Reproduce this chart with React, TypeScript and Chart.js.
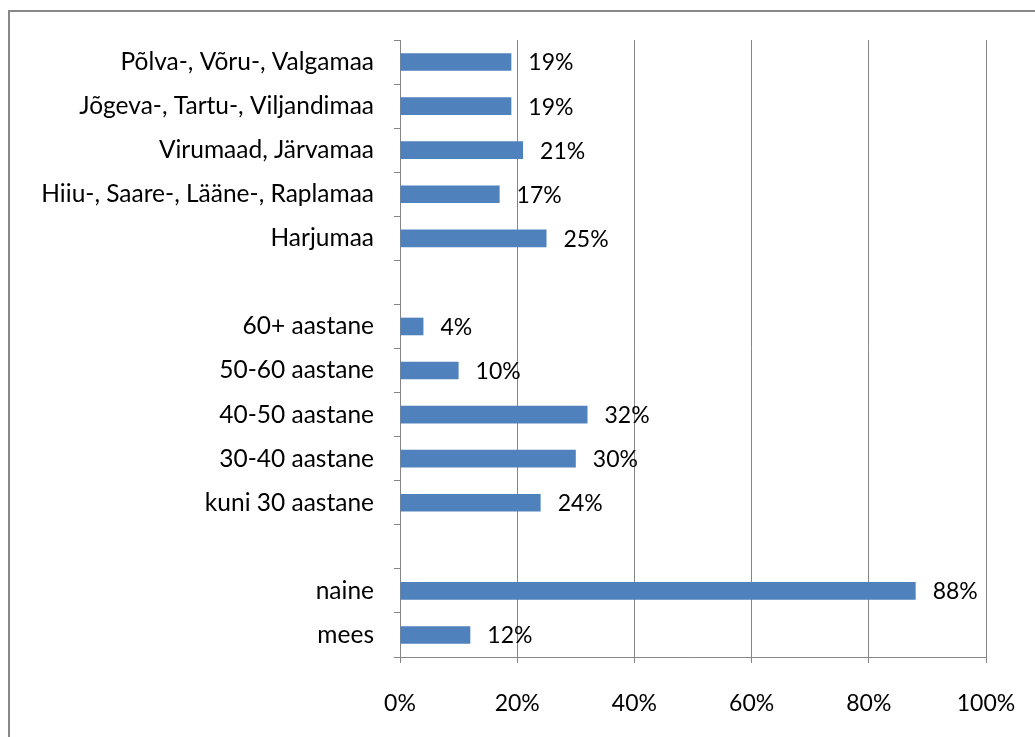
import React, { useEffect, useRef } from "react";
import { Chart, registerables } from "chart.js";

Chart.register(...registerables);

const categories: string[] = [
  "Põlva-, Võru-, Valgamaa",
  "Jõgeva-, Tartu-, Viljandimaa",
  "Virumaad, Järvamaa",
  "Hiiu-, Saare-, Lääne-, Raplamaa",
  "Harjumaa",
  "",
  "60+ aastane",
  "50-60 aastane",
  "40-50 aastane",
  "30-40 aastane",
  "kuni 30 aastane",
  "",
  "naine",
  "mees",
];

const values: (number | null)[] = [19, 19, 21, 17, 25, null, 4, 10, 32, 30, 24, null, 88, 12];

const xTicks: number[] = [0, 20, 40, 60, 80, 100];

const FONT = "Lato";
const GRID = "#868686";

const valueLabels = {
  id: "valueLabels",
  afterDatasetsDraw(chart: any) {
    const ctx = chart.ctx;
    const meta = chart.getDatasetMeta(0);
    ctx.save();
    ctx.font = `23px ${FONT}`;
    ctx.fillStyle = "#000";
    ctx.textAlign = "left";
    ctx.textBaseline = "middle";
    meta.data.forEach((el: any, i: number) => {
      const v = values[i];
      if (v === null || v === undefined) return;
      ctx.fillText(`${v}%`, el.x + 17, el.y + 1);
    });
    ctx.restore();
  },
};

const frame = {
  id: "frame",
  afterDraw(chart: any) {
    const ctx = chart.ctx;
    ctx.save();
    ctx.strokeStyle = "#888888";
    ctx.lineWidth = 2;
    ctx.beginPath();
    ctx.moveTo(9, chart.height + 2);
    ctx.lineTo(9, 11);
    ctx.lineTo(chart.width + 2, 11);
    ctx.stroke();
    ctx.restore();
  },
};

export default function App() {
  const ref = useRef<HTMLCanvasElement | null>(null);

  useEffect(() => {
    if (!ref.current) return;
    const chart = new Chart(ref.current, {
      type: "bar",
      data: {
        labels: categories,
        datasets: [
          {
            data: values as any,
            backgroundColor: "#4F81BD",
            borderWidth: 0,
            categoryPercentage: 1,
            barPercentage: 0.4,
          },
        ],
      },
      options: {
        indexAxis: "y",
        responsive: false,
        animation: false,
        layout: { padding: { top: 40, right: 49, left: 0, bottom: 0 } },
        plugins: {
          legend: { display: false },
          tooltip: { enabled: false },
        },
        scales: {
          x: {
            type: "linear",
            min: 0,
            max: 100,
            afterFit: (s: any) => {
              s.height = 80;
              s.paddingLeft = 0;
              s.paddingRight = 0;
            },
            afterBuildTicks: (s: any) => {
              s.ticks = xTicks.map((v) => ({ value: v }));
            },
            ticks: {
              font: { family: FONT, size: 23 },
              color: "#000",
              padding: 27,
              callback: (v: any) => `${v}%`,
              maxRotation: 0,
            },
            grid: {
              color: GRID,
              lineWidth: 1,
              drawTicks: true,
              tickLength: 6,
            },
            border: { display: true, color: GRID, width: 1 },
          },
          y: {
            type: "category",
            afterFit: (s: any) => {
              s.width = 400;
              s.paddingTop = 0;
              s.paddingBottom = 0;
            },
            ticks: {
              font: { family: FONT, size: 24.5 },
              color: "#000",
              padding: 20,
              autoSkip: false,
            },
            grid: {
              offset: true,
              drawOnChartArea: false,
              drawTicks: true,
              tickLength: 6,
              color: GRID,
            },
            border: { display: true, color: GRID, width: 1 },
          },
        },
      },
      plugins: [valueLabels, frame],
    });
    return () => chart.destroy();
  }, []);

  return (
    <div style={{ position: "fixed", left: 0, top: 0, width: 1035, height: 737, background: "#fff" }}>
      <canvas ref={ref} width={1035} height={737} />
    </div>
  );
}
